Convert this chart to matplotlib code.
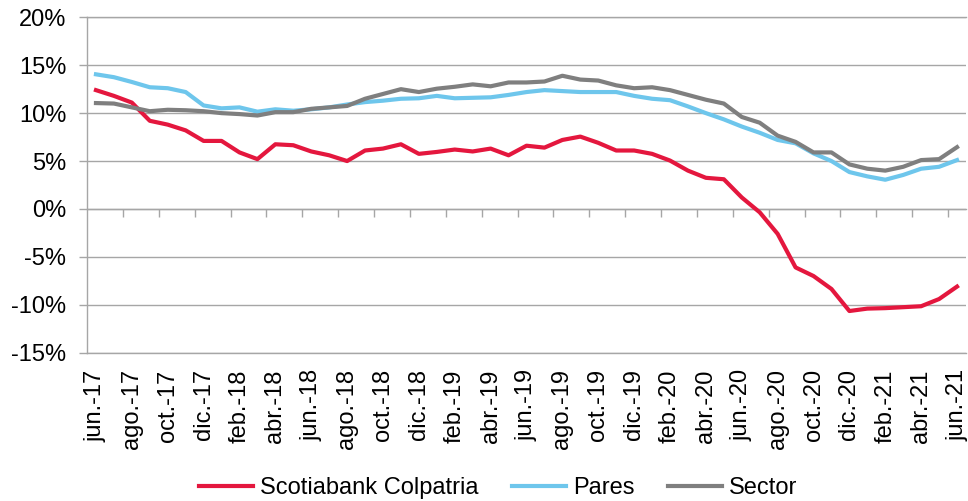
import matplotlib
matplotlib.use("Agg")
import matplotlib.pyplot as plt
from matplotlib.ticker import FuncFormatter

plt.rcParams['font.family'] = ['Liberation Sans', 'DejaVu Sans']

months = ['jun.', 'jul.', 'ago.', 'sep.', 'oct.', 'nov.', 'dic.',
          'ene.', 'feb.', 'mar.', 'abr.', 'may.']
start_year = 17
n_points = 49

scotiabank = [12.4, 11.8, 11.1, 9.2, 8.8, 8.2, 7.1, 7.1, 5.9, 5.2,
              6.75, 6.65, 6.0, 5.6, 5.0, 6.1, 6.3, 6.75, 5.75, 5.95,
              6.2, 6.0, 6.3, 5.6, 6.6, 6.4, 7.2, 7.55, 6.9, 6.1,
              6.1, 5.75, 5.05, 4.0, 3.25, 3.1, 1.2, -0.35, -2.6, -6.1,
              -7.0, -8.35, -10.65, -10.4, -10.35, -10.25, -10.15, -9.4, -8.1]
pares = [14.05, 13.75, 13.25, 12.7, 12.6, 12.2, 10.8, 10.5, 10.6, 10.15,
         10.4, 10.25, 10.4, 10.6, 10.9, 11.15, 11.3, 11.5, 11.55, 11.8,
         11.55, 11.6, 11.65, 11.9, 12.2, 12.4, 12.3, 12.2, 12.2, 12.2,
         11.8, 11.5, 11.35, 10.7, 10.0, 9.35, 8.6, 7.95, 7.2, 6.85,
         5.8, 5.0, 3.85, 3.4, 3.05, 3.55, 4.2, 4.4, 5.1]
sector = [11.05, 11.0, 10.6, 10.2, 10.35, 10.3, 10.2, 10.0, 9.9, 9.75,
          10.1, 10.1, 10.45, 10.6, 10.75, 11.5, 12.0, 12.5, 12.2, 12.55,
          12.75, 13.0, 12.8, 13.2, 13.2, 13.3, 13.9, 13.5, 13.4, 12.9,
          12.6, 12.7, 12.4, 11.9, 11.4, 11.0, 9.6, 9.0, 7.65, 7.0,
          5.9, 5.9, 4.65, 4.2, 4.0, 4.4, 5.1, 5.2, 6.45]

labels = []
for i in range(n_points):
    m = i % 12
    y = start_year + (i + 5) // 12
    labels.append(f"{months[m]}-{y}")

series = [("Scotiabank Colpatria", scotiabank, "#E4173E"),
          ("Pares", pares, "#6EC6EC"),
          ("Sector", sector, "#7F7F7F")]

grid_c = "#A6A6A6"
fs = 17
fig = plt.figure(figsize=(9.68, 5.01), dpi=100)
ax = fig.add_axes([87/968, 1-352.7/501, (966-87)/968, (352.7-17.3)/501])

x = list(range(n_points))
for name, vals, col in series:
    ax.plot(x, vals, color=col, lw=3.0, label=name, solid_joinstyle='round')

ax.set_xlim(-0.5, n_points - 0.5)
ax.set_ylim(-15, 20)
ax.set_yticks(range(-15, 21, 5))
ax.yaxis.set_major_formatter(FuncFormatter(lambda v, p: f"{int(v)}%"))
ax.grid(axis='y', color=grid_c, lw=1)
ax.set_axisbelow(True)

ax.set_xticks(x[::2])
ax.set_xticklabels(labels[::2], rotation=90)
ax.tick_params(axis='x', length=0, pad=12, labelsize=fs)
ax.tick_params(axis='y', length=6, width=1, color=grid_c, pad=9, labelsize=fs)

ax.spines['right'].set_visible(False)
for s in ['left', 'top', 'bottom']:
    ax.spines[s].set_color(grid_c)
    ax.spines[s].set_linewidth(1)

sec = ax.secondary_xaxis(15/35)
sec.set_xticks([i + 0.5 for i in range(1, n_points - 1, 2)])
sec.set_xticklabels([])
sec.tick_params(axis='x', length=6, width=1, color=grid_c, direction='out')
sec.spines['bottom'].set_color(grid_c)
sec.spines['bottom'].set_linewidth(1)

fig.legend(loc='center', bbox_to_anchor=(498/968, 1-488/501), ncol=3,
           frameon=False, fontsize=fs, handlelength=2.3, handletextpad=0.3,
           columnspacing=1.4)

fig.savefig("out.png", dpi=100)
